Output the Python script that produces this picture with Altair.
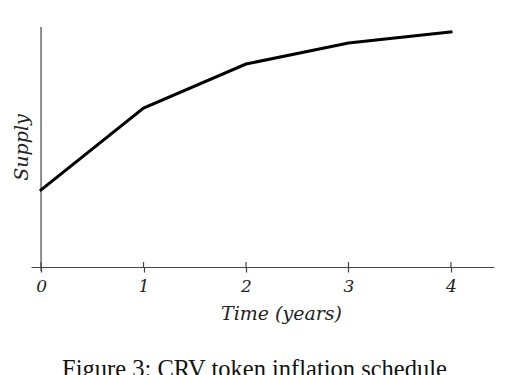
import altair as alt
import pandas as pd

years = [0, 1, 2, 3, 4]
supply = [77, 159, 203, 224, 235]
tick_years = [0, 1, 2, 3, 4]

df = pd.DataFrame({"year": years, "supply": supply})
ticks = pd.DataFrame({"year": tick_years})

x_scale = alt.Scale(domain=[-0.098, 4.42], nice=False, zero=False)
y_scale = alt.Scale(domain=[0, 240], nice=False, zero=True)

x_axis = alt.Axis(
    values=tick_years, format="d", title="Time (years)",
    domainColor="#444", domainWidth=1.2, tickColor="#444", tickWidth=1.2, tickSize=5,
    labelFont="DejaVu Serif", labelFontStyle="italic", labelFontSize=17, labelColor="#222",
    labelPadding=6, grid=False,
    titleFont="DejaVu Serif", titleFontStyle="italic", titleFontWeight="normal",
    titleFontSize=19, titleColor="#222", titleX=250, titleY=52, titleBaseline="alphabetic",
)
y_axis = alt.Axis(
    title="Supply", domain=False, ticks=False, labels=False, grid=False,
    titleFont="DejaVu Serif", titleFontStyle="italic", titleFontWeight="normal",
    titleFontSize=19, titleColor="#222", titlePadding=0,
)

line = alt.Chart(df).mark_line(color="black", strokeWidth=3, strokeCap="square").encode(
    x=alt.X("year:Q", scale=x_scale, axis=x_axis),
    y=alt.Y("supply:Q", scale=y_scale, axis=y_axis),
)

yaxis_rule = alt.Chart(ticks).transform_filter("datum.year == 0").mark_rule(
    color="#444", strokeWidth=1.2
).encode(
    x=alt.X("year:Q", scale=x_scale),
    y=alt.value(0),
    y2=alt.value(244),
)

tick_up = alt.Chart(ticks).mark_rule(color="#444", strokeWidth=1.2).encode(
    x=alt.X("year:Q", scale=x_scale),
    y=alt.value(235),
    y2=alt.value(240),
)

chart = alt.layer(yaxis_rule, tick_up, line).properties(
    width=463,
    height=240,
    background="white",
    autosize=alt.AutoSizeParams(type="none"),
    padding={"left": 23, "top": 19, "right": 28, "bottom": 110},
    title=alt.TitleParams(
        "Figure 3: CRV token inflation schedule",
        orient="bottom", anchor="middle", font="Liberation Serif", fontSize=24.5,
        fontWeight="normal", color="#111", offset=35, dx=-8,
    ),
).configure_view(strokeWidth=0, stroke=None)

chart.save("out.html", embed_options={"renderer": "svg", "actions": False})
